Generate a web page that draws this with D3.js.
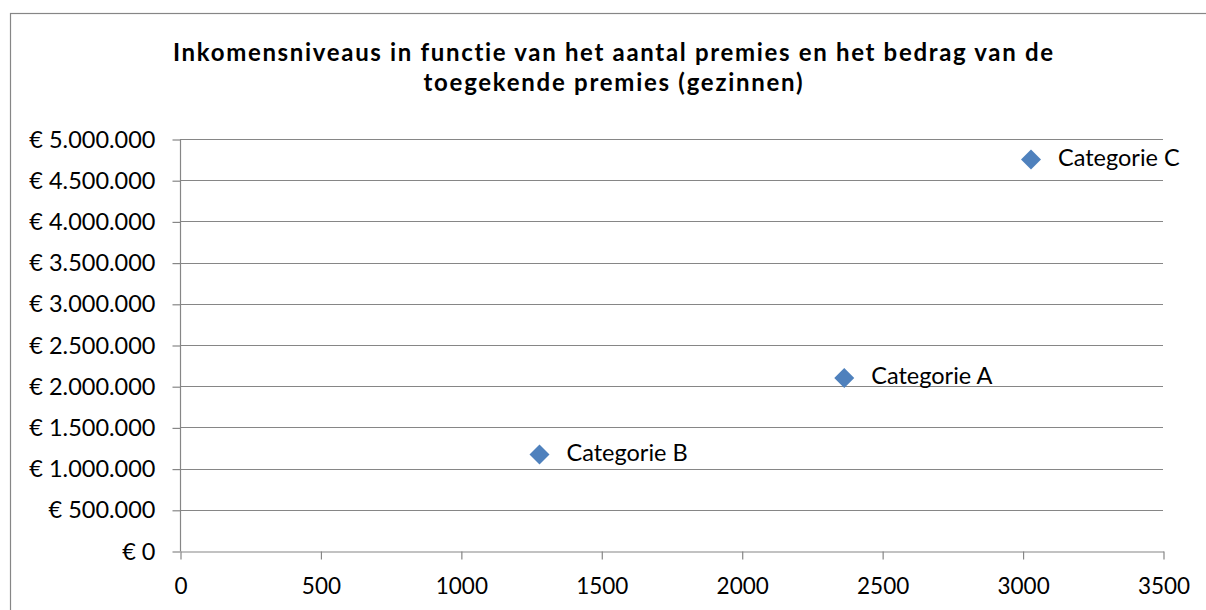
<!DOCTYPE html>
<html><head><meta charset="utf-8">
<script src="https://cdn.jsdelivr.net/npm/d3@7"></script>
<style>
html,body{margin:0;padding:0;background:#fff;}
svg{display:block;}
text{font-family:Lato, "Open Sans", sans-serif;fill:#000;font-variant-ligatures:none;}
</style></head>
<body>
<svg id="chart" width="1206" height="610"></svg>
<script>
const titleLines = ["Inkomensniveaus in functie van het aantal premies en het bedrag van de", "toegekende premies (gezinnen)"];
const categories = ["Categorie A", "Categorie B", "Categorie C"];
const xValues = [2365, 1280, 3030];
const yValues = [2100000, 1170000, 4750000];
const xTicks = [0, 500, 1000, 1500, 2000, 2500, 3000, 3500];
const yTicks = [0, 500000, 1000000, 1500000, 2000000, 2500000, 3000000, 3500000, 4000000, 4500000, 5000000];

(function () {
const svg = d3.select("#chart");
const gridColor = "#868686";
const pointColor = "#4F81BD";
const pLeft = 180, pRight = 1163, pTop = 139, pBottom = 551;
const titleWidths = [880, 379];

// chart border
svg.append("rect").attr("x", 10.5).attr("y", 13.5).attr("width", 1220).attr("height", 620)
  .attr("fill", "#fff").attr("stroke", gridColor).attr("stroke-width", 1.2);

// title
svg.append("g").selectAll("text").data(titleLines).join("text")
  .attr("x", 613).attr("y", (d, i) => 61 + i * 30)
  .attr("text-anchor", "middle").attr("font-weight", "bold").attr("font-size", 24)
  .attr("textLength", (d, i) => titleWidths[i]).attr("lengthAdjust", "spacing")
  .text(d => d);

const x = d3.scaleLinear().domain([0, 3500]).range([pLeft, pRight]);
const y = d3.scaleLinear().domain([0, 5000000]).range([pBottom, pTop]);

const loc = d3.formatLocale({decimal: ",", thousands: ".", grouping: [3], currency: ["€ ", ""]});
const fmt = loc.format("$,.0f");

// gridlines
svg.append("g").selectAll("line").data(yTicks.filter(d => d > 0)).join("line")
  .attr("x1", pLeft).attr("x2", pRight)
  .attr("y1", d => Math.round(y(d)) + 0.5).attr("y2", d => Math.round(y(d)) + 0.5)
  .attr("stroke", gridColor).attr("stroke-width", 1.2);

// y axis
const yAxis = svg.append("g").attr("transform", `translate(${pLeft + 0.5},0.5)`)
  .call(d3.axisLeft(y).tickValues(yTicks).tickFormat(fmt).tickSize(8).tickSizeOuter(0).tickPadding(17));
// x axis
const xAxis = svg.append("g").attr("transform", `translate(0.5,${pBottom + 0.5})`)
  .call(d3.axisBottom(x).tickValues(xTicks).tickFormat(d => d).tickSize(8).tickSizeOuter(0).tickPadding(19));

yAxis.selectAll("text").attr("font-size", 23.5);
xAxis.selectAll("text").attr("font-size", 22.5);
[yAxis, xAxis].forEach(a => {
  a.selectAll("path, line").attr("stroke", gridColor).attr("stroke-width", 1.2);
  a.selectAll("text").attr("fill", "#000").style("font-family", "Lato, 'Open Sans', sans-serif");
});
yAxis.select(".domain").attr("d", `M0,${pTop}V${pBottom}`);

// points
const pts = categories.map((c, i) => ({c, x: xValues[i], y: yValues[i]}));
svg.append("g").selectAll("path").data(pts).join("path")
  .attr("d", d3.symbol(d3.symbolSquare, 200))
  .attr("transform", d => `translate(${x(d.x)},${y(d.y)}) rotate(45)`)
  .attr("fill", pointColor);

// labels
svg.append("g").selectAll("text").data(pts).join("text")
  .attr("x", d => x(d.x) + 27).attr("y", d => y(d.y) + 6)
  .attr("font-size", 23.5)
  .text(d => d.c);
})();
</script>
</body></html>
